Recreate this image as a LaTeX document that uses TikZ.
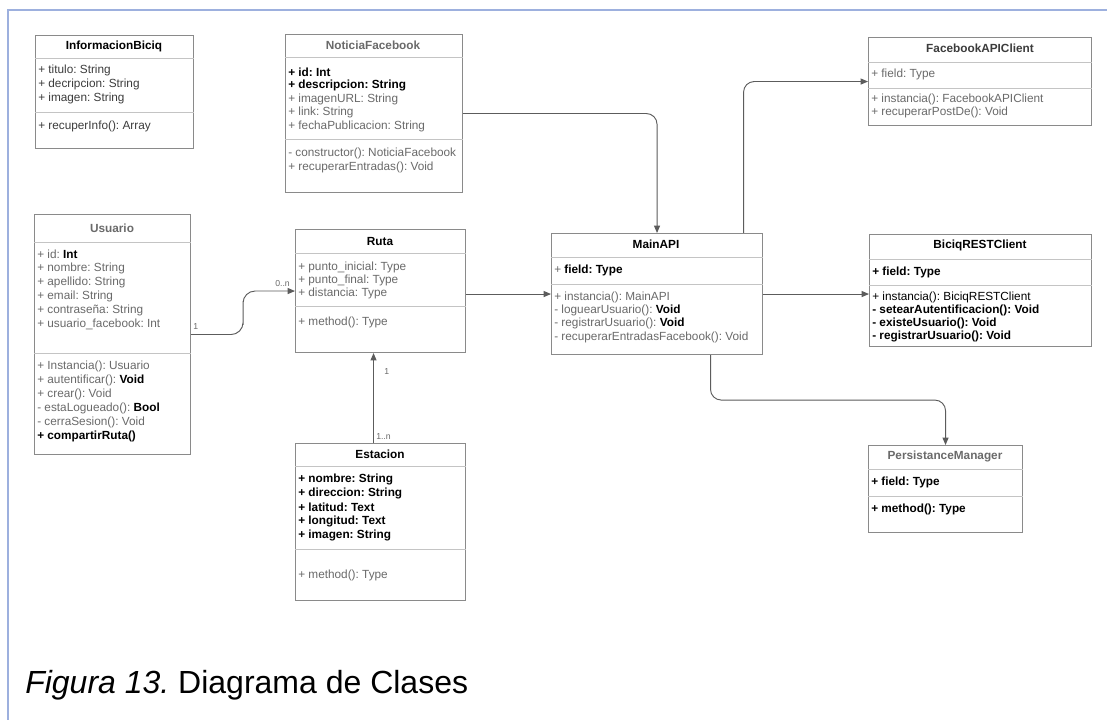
\documentclass[tikz,border=0pt]{standalone}
\usepackage{fontspec}
\setmainfont{Liberation Sans}
\usetikzlibrary{arrows.meta,calc}
\frenchspacing

\definecolor{boxline}{HTML}{8A8A8A}
\definecolor{divline}{HTML}{C4C4C4}
\definecolor{connline}{HTML}{5C5C5C}
\definecolor{txtgray}{HTML}{6A6A6A}
\definecolor{txtdark}{HTML}{3C3C3C}
\definecolor{framecol}{HTML}{9DB0DE}

\tikzset{
  clsbox/.style={draw=boxline, line width=0.8pt, fill=white, inner sep=0pt, anchor=north west},
  divider/.style={draw=divline, line width=0.7pt},
  txt/.style={anchor=west, inner sep=0pt, text=txtgray, font=\fontsize{8.85pt}{10pt}\selectfont},
  ttl/.style={inner sep=0pt, text=txtdark, font=\fontsize{8.85pt}{10pt}\selectfont\bfseries},
  conn/.style={draw=connline, line width=0.7pt, -{Triangle[length=5.5pt,width=4.5pt]}},
  mult/.style={inner sep=0pt, text=txtgray, font=\fontsize{6.5pt}{7pt}\selectfont},
}

\newcounter{rowc}
% one text row of a class compartment
\newcommand\crow[3]{\stepcounter{rowc}\node[txt] (row\arabic{rowc}) at (#1,#2) {#3};}
% dark bold fragment
\newcommand\dk[1]{{\color{black}\bfseries #1}}
% class frame: name, left, top, width, height
\newcommand\classbox[5]{\node[clsbox, minimum width={#4*0.75pt}, minimum height={#5*0.75pt}] (#1) at (#2,#3) {};}
% compartment divider: box, y
\newcommand\cdiv[2]{\draw[divider] (#1.west |- 0,#2) -- (#1.east |- 0,#2);}

\begin{document}
\begin{tikzpicture}[x=0.75pt,y=-0.75pt]
\useasboundingbox (0,0) rectangle (1107,720);
\fill[white] (0,0) rectangle (1107,720);

% page frame
\draw[framecol, line width=1.2pt] (8,720) -- (8,10) -- (1107,10);

% ---------- InformacionBiciq ----------
\classbox{info}{35}{35}{158}{113}
\node[ttl, text=black] (infot) at (114,46) {InformacionBiciq};
\cdiv{info}{58}
\crow{38}{70}{\color{txtdark}+ titulo: String}
\crow{38}{84}{\color{txtdark}+ decripcion: String}
\crow{38}{98}{\color{txtdark}+ imagen: String}
\cdiv{info}{112}
\crow{38}{126}{\color{txtdark}+ recuperInfo(): Array}

% ---------- NoticiaFacebook ----------
\classbox{noticia}{285}{34}{177}{158}
\node[ttl, text=txtgray] (noticiat) at (373,45) {NoticiaFacebook};
\cdiv{noticia}{57}
\crow{288}{72}{\dk{+ id: Int}}
\crow{288}{85}{\dk{+ descripcion: String}}
\crow{288}{99}{+ imagenURL: String}
\crow{288}{112}{+ link: String}
\crow{288}{126}{+ fechaPublicacion: String}
\cdiv{noticia}{139}
\crow{288}{153}{- constructor(): NoticiaFacebook}
\crow{288}{167}{+ recuperarEntradas(): Void}

% ---------- Usuario ----------
\classbox{usuario}{34}{214}{156}{240}
\node[ttl, text=txtgray] (usuariot) at (112,228) {Usuario};
\cdiv{usuario}{242}
\crow{37}{254}{+ id: \dk{Int}}
\crow{37}{268}{+ nombre: String}
\crow{37}{282}{+ apellido: String}
\crow{37}{296}{+ email: String}
\crow{37}{310}{+ contraseña: String}
\crow{37}{324}{+ usuario\_facebook: Int}
\cdiv{usuario}{353}
\crow{37}{366}{+ Instancia(): Usuario}
\crow{37}{380}{+ autentificar(): \dk{Void}}
\crow{37}{394}{+ crear(): Void}
\crow{37}{408}{- estaLogueado(): \dk{Bool}}
\crow{37}{422}{- cerraSesion(): Void}
\crow{37}{436}{\dk{+ compartirRuta()}}

% ---------- Ruta ----------
\classbox{ruta}{295}{229}{170}{123}
\node[ttl, text=black] (rutat) at (380,241) {Ruta};
\cdiv{ruta}{253}
\crow{298}{267}{+ punto\_inicial: Type}
\crow{298}{280}{+ punto\_final: Type}
\crow{298}{293}{+ distancia: Type}
\cdiv{ruta}{306}
\crow{298}{322}{+ method(): Type}

% ---------- Estacion ----------
\classbox{estacion}{295}{443}{170}{157}
\node[ttl, text=black] (estaciont) at (380,454) {Estacion};
\cdiv{estacion}{466}
\crow{298}{479}{\dk{+ nombre: String}}
\crow{298}{493}{\dk{+ direccion: String}}
\crow{298}{507}{\dk{+ latitud: Text}}
\crow{298}{521}{\dk{+ longitud: Text}}
\crow{298}{535}{\dk{+ imagen: String}}
\cdiv{estacion}{549}
\crow{298}{575}{+ method(): Type}

% ---------- MainAPI ----------
\classbox{mainapi}{551}{233}{211}{121}
\node[ttl, text=black] (mainapit) at (656,244) {MainAPI};
\cdiv{mainapi}{257}
\crow{554}{270}{+ \dk{field: Type}}
\cdiv{mainapi}{284}
\crow{554}{297}{+ instancia(): MainAPI}
\crow{554}{310}{- loguearUsuario(): \dk{Void}}
\crow{554}{323}{- registrarUsuario(): \dk{Void}}
\crow{554}{337}{- recuperarEntradasFacebook(): Void}

% ---------- FacebookAPIClient ----------
\classbox{fbclient}{868}{37}{223}{88}
\node[ttl, text=txtdark] (fbclientt) at (980,48) {FacebookAPIClient};
\cdiv{fbclient}{62}
\crow{871}{74}{+ field: Type}
\cdiv{fbclient}{88}
\crow{871}{99}{+ instancia(): FacebookAPIClient}
\crow{871}{112}{+ recuperarPostDe(): Void}

% ---------- BiciqRESTClient ----------
\classbox{biciq}{869}{234}{222}{112}
\node[ttl, text=black] (biciqt) at (980,245) {BiciqRESTClient};
\cdiv{biciq}{259}
\crow{872}{272}{\dk{+ field: Type}}
\cdiv{biciq}{285}
\crow{872}{297}{\color{black}+ instancia(): BiciqRESTClient}
\crow{872}{310}{\dk{- setearAutentificacion(): Void}}
\crow{872}{323}{\dk{- existeUsuario(): Void}}
\crow{872}{336}{\dk{- registrarUsuario(): Void}}

% ---------- PersistanceManager ----------
\classbox{persist}{868}{445}{154}{87}
\node[ttl, text=txtgray] (persistt) at (945,456) {PersistanceManager};
\cdiv{persist}{469}
\crow{871}{482}{\dk{+ field: Type}}
\cdiv{persist}{496}
\crow{871}{509}{\dk{+ method(): Type}}

% ---------- connectors ----------
\draw[conn, rounded corners=9pt] (usuario.east) -| ($(usuario.east)!0.5!(ruta.west)$) |- (ruta.west);
\node[mult, anchor=south west] (m1) at (193,330) {1};
\node[mult, anchor=south east] (m2) at (290,287) {0..n};

\draw[conn] ($(estacion.north)+(-7,0)$) -- ($(ruta.south)+(-7,0)$);
\node[mult, anchor=west] (m3) at (384,372) {1};
\node[mult, anchor=west] (m4) at (376,437) {1..n};

\draw[conn] (ruta.east |- mainapi.west) -- (mainapi.west);
\draw[conn, rounded corners=8pt] (noticia.east) -| (mainapi.north);
\draw[conn, rounded corners=8pt] ($(mainapi.north)+(86.5,0)$) |- (fbclient.west);
\draw[conn] (mainapi.east) -- (mainapi.east -| biciq.west);
\draw[conn, rounded corners=8pt] ($(mainapi.south)+(53.5,0)$) -- ++(0,45) -| (persist.north);

% ---------- caption ----------
\node[anchor=base west, inner sep=0pt, text=black, font=\fontsize{24pt}{28pt}\selectfont] (caption) at (25,693) {\textit{Figura 13.} Diagrama de Clases};
\end{tikzpicture}
\end{document}
